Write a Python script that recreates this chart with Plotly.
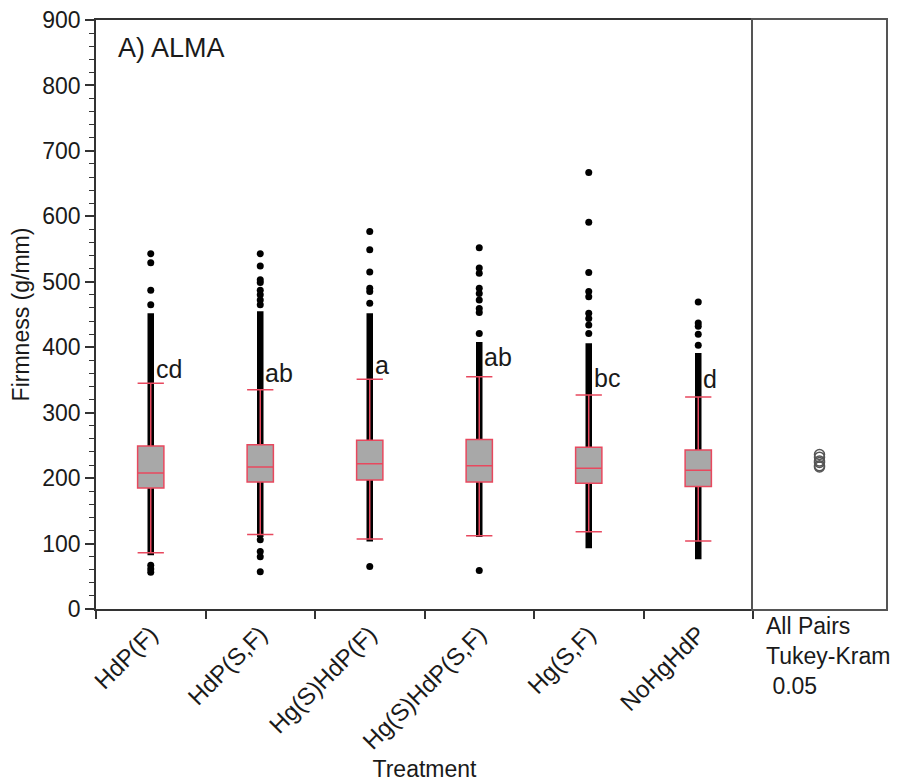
import plotly.graph_objects as go

categories = ["HdP(F)", "HdP(S,F)", "Hg(S)HdP(F)", "Hg(S)HdP(S,F)", "Hg(S,F)", "NoHgHdP"]
q1 = [185, 194, 197, 194, 192, 187]
median = [208, 217, 222, 219, 215, 212]
q3 = [249, 251, 258, 259, 247, 243]
lower_whisker = [86, 114, 107, 112, 118, 104]
upper_whisker = [345, 335, 351, 355, 327, 324]
dense_low = [82, 110, 103, 110, 93, 76]
dense_high = [452, 455, 452, 408, 406, 391]
outliers_high = [
    [465, 487, 529, 543],
    [465, 472, 480, 487, 499, 503, 524, 543],
    [467, 485, 490, 515, 549, 577],
    [421, 453, 459, 472, 482, 490, 513, 521, 552],
    [421, 434, 444, 452, 477, 485, 514, 591, 667],
    [403, 420, 432, 437, 469],
]
outliers_low = [
    [67, 61, 56],
    [106, 88, 80, 57],
    [65],
    [59],
    [],
    [],
]
letters = ["cd", "ab", "a", "ab", "bc", "d"]
letter_y = [367, 361, 373, 385, 353, 351]
group_means = [219, 226, 236, 232, 224, 217]
panel_text = "All Pairs<br>Tukey-Kram<br> 0.05"
title_text = "A) ALMA"

FONT = "Liberation Sans, Arial, sans-serif"
TXT = "#1a1a1a"
BOX_RED = "#E8485E"
FRAME = "#555555"

fig = go.Figure()

# dense jittered points: drawn as thick black band (base axes, below boxes)
bx, by = [], []
for c, lo, hi in zip(categories, dense_low, dense_high):
    bx += [c, c, None]
    by += [lo, hi, None]
fig.add_trace(go.Scatter(x=bx, y=by, mode="lines", line=dict(color="black", width=6.5),
                         hoverinfo="skip", showlegend=False, xaxis="x", yaxis="y"))

# individual outlying points
ox, oy = [], []
for c, hi, lo in zip(categories, outliers_high, outliers_low):
    for v in hi + lo:
        ox.append(c)
        oy.append(v)
fig.add_trace(go.Scatter(x=ox, y=oy, mode="markers", marker=dict(color="black", size=7),
                         hoverinfo="skip", showlegend=False, xaxis="x", yaxis="y"))

# box plots on overlay axes so they sit above the band
fig.add_trace(go.Box(
    x=categories, q1=q1, median=median, q3=q3,
    lowerfence=lower_whisker, upperfence=upper_whisker,
    fillcolor="#A8A8A8", line=dict(color=BOX_RED, width=1.5),
    whiskerwidth=1, width=0.24, boxpoints=False, showlegend=False,
    xaxis="x3", yaxis="y3"))

# comparison circles in the right panel
fig.add_trace(go.Scatter(x=[0.5] * len(group_means), y=group_means, mode="markers",
                         marker=dict(symbol="circle-open", size=10, color="#555555",
                                     line=dict(width=1.5)),
                         hoverinfo="skip", showlegend=False, xaxis="x2", yaxis="y2"))

split = 657 / 790

fig.update_layout(
    width=899, height=782,
    margin=dict(l=96, r=13, t=20, b=173),
    paper_bgcolor="white", plot_bgcolor="white",
    font=dict(family=FONT, size=23, color=TXT),
    xaxis=dict(domain=[0, split], type="category", categoryorder="array",
               categoryarray=categories, range=[-0.5, 5.5], automargin=False,
               tickson="boundaries", ticks="outside", ticklen=8, tickwidth=1.5,
               tickcolor="#333", tickangle=-45, showgrid=False,
               showline=True, linecolor="#333", linewidth=1.5, mirror=True,
               title=dict(text="Treatment", font=dict(size=23), standoff=10),
               tickfont=dict(size=24), anchor="y"),
    yaxis=dict(domain=[0, 1], range=[0, 900], dtick=100, ticks="outside", ticklen=9,
               tickwidth=1.5, tickcolor="#333", showgrid=False, zeroline=False,
               showline=True, linecolor="#333", linewidth=1.5, mirror=False,
               automargin=False,
               minor=dict(dtick=20, ticks="outside", ticklen=5, tickcolor="#333", tickwidth=1),
               title=dict(text="Firmness (g/mm)", font=dict(size=23), standoff=6),
               tickfont=dict(size=23), anchor="x"),
    xaxis3=dict(overlaying="x", type="category", categoryorder="array",
                categoryarray=categories, range=[-0.5, 5.5], visible=False, anchor="y3"),
    yaxis3=dict(overlaying="y", range=[0, 900], visible=False, anchor="x3"),
    xaxis2=dict(domain=[split, 1], range=[0, 1], showticklabels=False, ticks="",
                showgrid=False, zeroline=False, showline=True, linecolor=FRAME,
                linewidth=1.5, mirror=True, anchor="y2", automargin=False),
    yaxis2=dict(domain=[0, 1], range=[0, 900], showticklabels=False, ticks="",
                showgrid=False, zeroline=False, showline=True, linecolor=FRAME,
                linewidth=1.5, mirror=True, anchor="x2", automargin=False),
)

for c, lab, ly in zip(categories, letters, letter_y):
    fig.add_annotation(x=c, y=ly, xref="x", yref="y", text=lab, showarrow=False,
                       xanchor="left", yanchor="middle", xshift=3,
                       font=dict(size=25, color=TXT))

fig.add_annotation(x=0.031, y=0.952, xref="x domain", yref="y domain", text=title_text,
                   showarrow=False, xanchor="left", yanchor="middle",
                   font=dict(size=27, color=TXT))

fig.add_annotation(x=0.08, y=0, xref="x2 domain", yref="y2 domain", text=panel_text,
                   showarrow=False, xanchor="left", yanchor="top", align="left", yshift=-2,
                   font=dict(size=23, color=TXT))

fig.write_html("out.html")
